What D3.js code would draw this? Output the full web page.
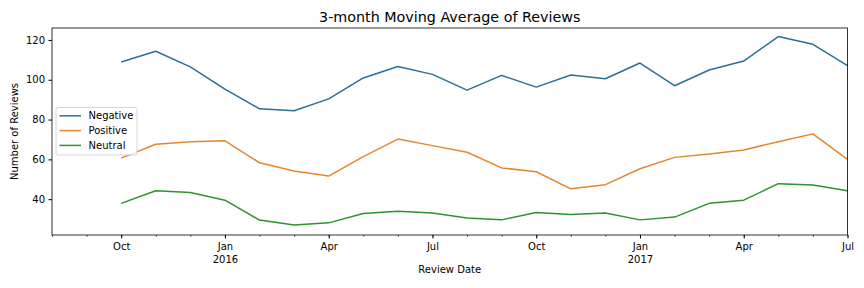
<!DOCTYPE html>
<html>
<head>
<meta charset="utf-8">
<script src="https://cdn.jsdelivr.net/npm/d3@7"></script>
<style>
  body { margin: 0; background: #fff; }
  text { font-family: "DejaVu Sans", sans-serif; fill: #000; }
</style>
</head>
<body>
<div id="chart"></div>
<script>
const months = ["2015-10", "2015-11", "2015-12", "2016-01", "2016-02", "2016-03", "2016-04", "2016-05",
    "2016-06", "2016-07", "2016-08", "2016-09", "2016-10", "2016-11", "2016-12", "2017-01",
    "2017-02", "2017-03", "2017-04", "2017-05", "2017-06", "2017-07"]
const negative = [108.9, 114.3, 106.5, 95.3, 85.4, 84.4, 90.4, 100.9, 106.7, 102.7, 94.8, 102.2,
    96.3, 102.4, 100.5, 108.4, 97.0, 104.9, 109.4, 121.7, 117.8, 107.1]
const positive = [60.6, 67.6, 68.9, 69.3, 58.3, 54.2, 51.6, 61.4, 70.2, 66.9, 63.6, 55.7,
    53.8, 45.2, 47.3, 55.3, 61.0, 62.7, 64.7, 68.9, 72.8, 60.0]
const neutral = [37.9, 44.2, 43.4, 39.5, 29.5, 27.0, 28.1, 32.8, 33.9, 33.0, 30.6, 29.6,
    33.3, 32.3, 33.0, 29.6, 31.0, 37.9, 39.5, 47.8, 47.1, 44.2]
const seriesNames = ["Negative", "Positive", "Neutral"]
const monthNames = ["Jan", "Feb", "Mar", "Apr", "May", "Jun", "Jul", "Aug", "Sep", "Oct", "Nov", "Dec"]
const yTicks = [40, 60, 80, 100, 120]

const colors = ["#2a6f98", "#e3872f", "#2f9230"]
const width = 864, height = 288
const margin = { top: 28, right: 16.5, bottom: 53, left: 52 }

// months -> ordinal so every month gets the same width (like pandas periods)
const ord = s => { const [y, m] = s.split("-").map(Number); return y * 12 + (m - 1) }
const fromOrd = o => ({ year: Math.floor(o / 12), month: o % 12 })

const series = [negative, positive, neutral]

const svg = d3.select("#chart").append("svg")
    .attr("width", width).attr("height", height)

const x = d3.scaleLinear()
    .domain([ord("2015-08"), ord("2017-07")])
    .range([margin.left, width - margin.right])
const y = d3.scaleLinear()
    .domain([22, 126])
    .range([height - margin.bottom, margin.top])

const plotW = width - margin.right - margin.left
const plotH = height - margin.bottom - margin.top

const line = d3.line()
    .x((d, i) => x(ord(months[i])))
    .y(d => y(d))

svg.selectAll("path.series")
    .data(series)
    .enter().append("path")
    .attr("class", "series")
    .attr("d", line)
    .attr("fill", "none")
    .attr("stroke", (d, i) => colors[i])
    .attr("stroke-width", 1.5)
    .attr("stroke-linejoin", "round")

// x axis: minor every month, labels on quarters
const allMonths = d3.range(ord("2015-08"), ord("2017-07") + 1)
const majors = allMonths.filter(o => fromOrd(o).month % 3 === 0 && o >= ord("2015-10"))

const xMinor = d3.axisBottom(x).tickValues(allMonths).tickSize(2).tickFormat("")
svg.append("g")
    .attr("transform", `translate(0,${height - margin.bottom})`)
    .call(xMinor)
    .call(g => g.select(".domain").remove())
    .call(g => g.selectAll("line").attr("stroke-width", 0.6))

const xMajor = d3.axisBottom(x).tickValues(majors).tickSize(3.5).tickPadding(4)
    .tickFormat(o => monthNames[fromOrd(o).month])
const gx = svg.append("g")
    .attr("transform", `translate(0,${height - margin.bottom})`)
    .call(xMajor)
gx.select(".domain").remove()
gx.selectAll("text").attr("font-size", 10).attr("font-family", "DejaVu Sans")
gx.selectAll(".tick")
    .filter(o => fromOrd(o).month === 0)
    .append("text")
    .attr("y", 20.5)
    .attr("dy", "0.71em")
    .attr("text-anchor", "middle")
    .attr("font-size", 10)
    .attr("fill", "#000")
    .text(o => fromOrd(o).year)

const gy = svg.append("g")
    .attr("transform", `translate(${margin.left},0)`)
    .call(d3.axisLeft(y).tickValues(yTicks).tickSize(3.5).tickPadding(3.5))
gy.select(".domain").remove()
gy.selectAll("text").attr("font-size", 10).attr("font-family", "DejaVu Sans")

// frame
svg.append("rect")
    .attr("x", margin.left).attr("y", margin.top)
    .attr("width", plotW).attr("height", plotH)
    .attr("fill", "none").attr("stroke", "#000").attr("stroke-width", 0.8)

svg.append("text")
    .attr("x", margin.left + plotW / 2).attr("y", 22)
    .attr("text-anchor", "middle")
    .attr("font-size", 14.3)
    .text("3-month Moving Average of Reviews")

svg.append("text")
    .attr("x", margin.left + plotW / 2).attr("y", 273)
    .attr("text-anchor", "middle")
    .attr("font-size", 10)
    .text("Review Date")

svg.append("text")
    .attr("transform", `translate(18,${margin.top + plotH / 2}) rotate(-90)`)
    .attr("text-anchor", "middle")
    .attr("font-size", 10)
    .text("Number of Reviews")

// legend
const legend = svg.append("g").attr("transform", "translate(56,107.5)")
legend.append("rect")
    .attr("width", 81).attr("height", 47.5)
    .attr("rx", 2)
    .attr("fill", "#fff").attr("fill-opacity", 0.8)
    .attr("stroke", "#ccc").attr("stroke-width", 0.8)
const item = legend.selectAll("g.item")
    .data(seriesNames)
    .enter().append("g")
    .attr("class", "item")
    .attr("transform", (d, i) => `translate(0,${8.3 + i * 14.8})`)
item.append("line")
    .attr("x1", 3.5).attr("x2", 25)
    .attr("stroke", (d, i) => colors[i]).attr("stroke-width", 1.5)
item.append("text")
    .attr("x", 32.5).attr("dy", "0.35em")
    .attr("font-size", 10)
    .text(d => d)
</script>
</body>
</html>
